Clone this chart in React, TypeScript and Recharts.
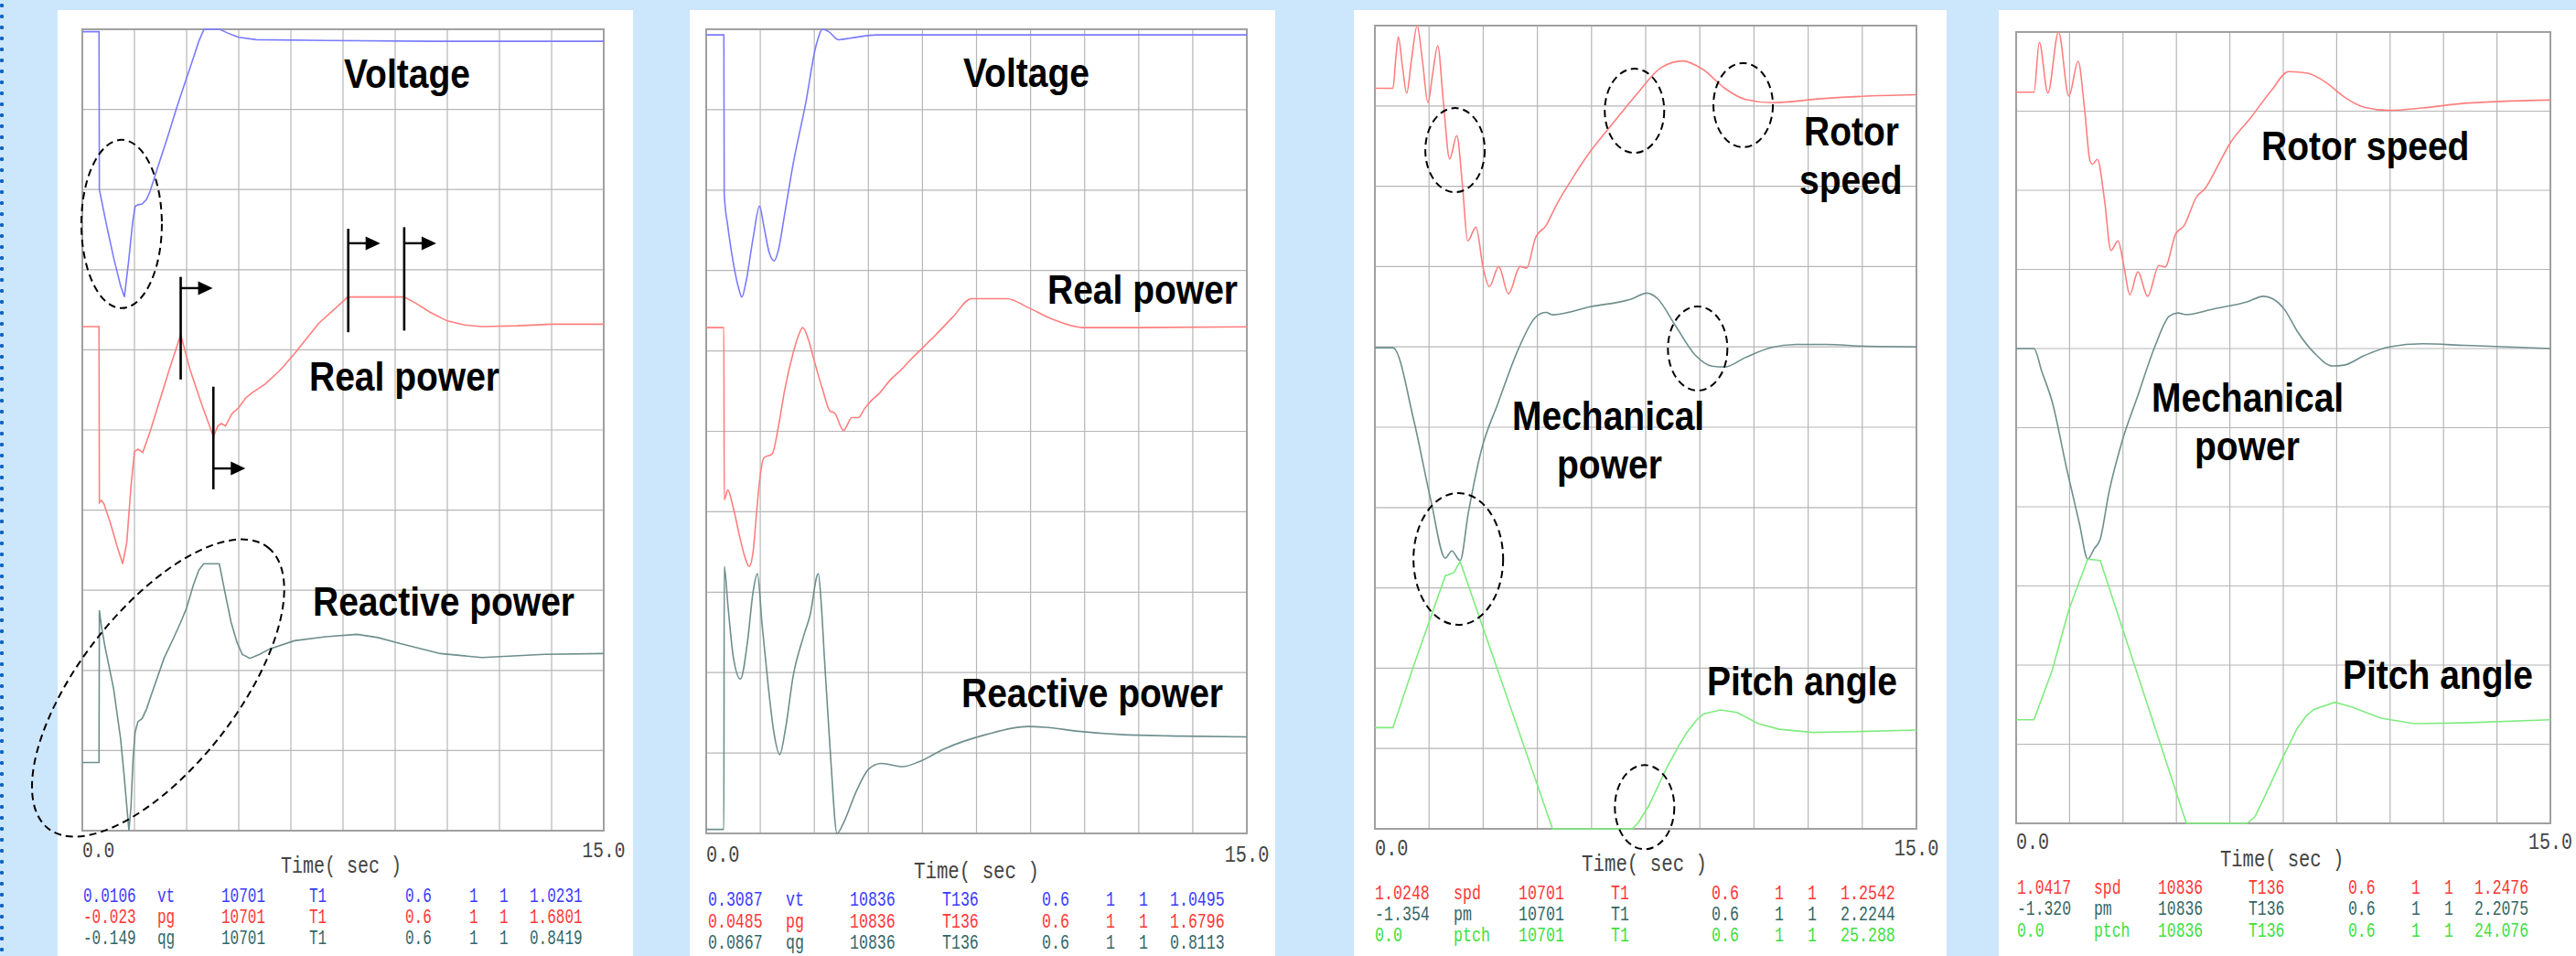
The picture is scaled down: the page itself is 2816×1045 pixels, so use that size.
import React from 'react'
import { LineChart, Line, XAxis, YAxis, CartesianGrid, ReferenceLine, ReferenceDot, ReferenceArea } from 'recharts'

type Pt = [number, number]

// Each series: [time in s, value in plot divisions] (0 = bottom of frame, 10 = top).
// The plotter draws every channel on its own scale, so divisions are what can be read.

const p1Voltage: Pt[] = [
  [0, 9.97], [0.48, 9.97], [0.49, 8.0], [0.7, 7.55], [0.9, 7.15], [1.1, 6.8], [1.21, 6.66], [1.33, 7.1],
  [1.45, 7.6], [1.52, 7.79], [1.6, 7.81], [1.72, 7.82], [1.85, 7.88], [1.95, 7.98], [2.2, 8.32], [2.45, 8.65],
  [2.7, 9.0], [2.95, 9.33], [3.2, 9.65], [3.35, 9.85], [3.5, 10.0], [3.95, 10.0], [4.2, 9.95], [4.5, 9.9],
  [5.0, 9.87], [7.0, 9.86], [10.0, 9.85], [15.0, 9.85],
]
const p1Real: Pt[] = [
  [0, 6.29], [0.48, 6.29], [0.49, 4.09], [0.55, 4.12], [0.62, 4.08], [0.8, 3.85], [1.0, 3.55], [1.16, 3.33],
  [1.28, 3.6], [1.4, 4.3], [1.5, 4.73], [1.6, 4.76], [1.74, 4.72], [1.95, 4.98], [2.2, 5.33], [2.5, 5.75],
  [2.83, 6.19], [3.1, 5.75], [3.45, 5.3], [3.77, 4.92], [3.9, 5.05], [4.0, 5.08], [4.12, 5.05], [4.3, 5.2],
  [4.5, 5.28], [4.7, 5.4], [4.9, 5.47], [5.25, 5.57], [5.7, 5.75], [6.1, 5.95], [6.8, 6.33], [7.64, 6.66],
  [9.26, 6.66], [9.6, 6.58], [10.0, 6.47], [10.5, 6.36], [11.0, 6.31], [11.5, 6.29], [12.5, 6.3], [13.5, 6.32],
  [15, 6.32],
]
const p1Reactive: Pt[] = [
  [0, 0.85], [0.48, 0.85], [0.49, 2.75], [0.55, 2.55], [0.65, 2.3], [0.9, 1.77], [1.1, 1.15], [1.2, 0.7],
  [1.28, 0.3], [1.34, 0.0], [1.4, 0.3], [1.46, 0.9], [1.52, 1.23], [1.6, 1.36], [1.72, 1.4], [1.85, 1.52],
  [1.98, 1.69], [2.35, 2.15], [2.6, 2.38], [2.83, 2.6], [3.0, 2.78], [3.19, 3.06], [3.35, 3.25], [3.49, 3.33],
  [3.94, 3.33], [4.1, 2.98], [4.28, 2.6], [4.45, 2.35], [4.6, 2.2], [4.82, 2.15], [5.1, 2.2], [5.4, 2.27],
  [6.1, 2.37], [7.0, 2.42], [7.9, 2.45], [8.5, 2.41], [9.1, 2.34], [10.3, 2.21], [11.5, 2.16], [13.3, 2.2],
  [15, 2.21],
]

const p2Voltage: Pt[] = [
  [0, 9.93], [0.49, 9.93], [0.5, 7.95], [0.6, 7.55], [0.75, 7.1], [0.9, 6.78], [0.99, 6.67], [1.1, 6.85],
  [1.3, 7.4], [1.48, 7.8], [1.6, 7.55], [1.75, 7.22], [1.89, 7.12], [2.0, 7.25], [2.18, 7.71], [2.41, 8.32],
  [2.76, 9.08], [3.05, 9.8], [3.23, 10.0], [3.4, 9.97], [3.67, 9.87], [4.0, 9.89], [4.74, 9.93], [15, 9.93],
]
const p2Real: Pt[] = [
  [0, 6.29], [0.49, 6.29], [0.5, 4.15], [0.6, 4.27], [0.75, 4.05], [0.95, 3.65], [1.1, 3.4], [1.19, 3.32],
  [1.3, 3.5], [1.4, 4.0], [1.48, 4.38], [1.6, 4.67], [1.83, 4.72], [2.0, 5.05], [2.18, 5.52], [2.41, 5.97],
  [2.55, 6.18], [2.68, 6.29], [2.85, 6.12], [2.99, 5.89], [3.23, 5.52], [3.44, 5.25], [3.56, 5.23], [3.81, 5.01],
  [4.04, 5.17], [4.22, 5.17], [4.39, 5.28], [4.62, 5.4], [4.8, 5.47], [5.09, 5.63], [5.44, 5.78], [5.67, 5.89],
  [6.37, 6.2], [6.84, 6.42], [7.36, 6.65], [8.35, 6.65], [8.93, 6.54], [9.63, 6.39], [10.45, 6.29], [11.5, 6.29],
  [15, 6.3],
]
const p2Reactive: Pt[] = [
  [0, 0.05], [0.49, 0.05], [0.5, 3.32], [0.6, 2.85], [0.75, 2.2], [0.95, 1.92], [1.15, 2.4], [1.3, 3.0],
  [1.42, 3.23], [1.55, 2.6], [1.71, 1.88], [1.88, 1.25], [2.04, 0.98], [2.2, 1.3], [2.41, 1.95], [2.7, 2.45],
  [2.88, 2.71], [3.11, 3.23], [3.2, 2.8], [3.28, 2.18], [3.46, 0.89], [3.63, 0.0], [3.8, 0.12], [4.16, 0.52],
  [4.51, 0.8], [4.86, 0.87], [5.44, 0.83], [5.9, 0.89], [6.6, 1.05], [7.77, 1.23], [8.93, 1.33], [9.4, 1.32],
  [10.33, 1.27], [11.49, 1.23], [13.2, 1.21], [15, 1.2],
]

const p3Speed: Pt[] = [
  [0, 9.22], [0.5, 9.22], [0.58, 9.6], [0.65, 9.86], [0.76, 9.5], [0.88, 9.16], [1.02, 9.6], [1.17, 10.0],
  [1.32, 9.55], [1.47, 9.04], [1.6, 9.4], [1.74, 9.75], [1.9, 9.03], [2.07, 8.34], [2.27, 8.63], [2.42, 8.04],
  [2.57, 7.32], [2.8, 7.49], [3.0, 6.98], [3.17, 6.75], [3.43, 7.0], [3.7, 6.66], [4.02, 7.0], [4.2, 6.98],
  [4.45, 7.36], [4.74, 7.51], [5.03, 7.77], [5.5, 8.12], [5.85, 8.36], [6.55, 8.76], [7.24, 9.14], [7.94, 9.48],
  [8.52, 9.56], [9.1, 9.45], [9.69, 9.22], [10.27, 9.08], [11.02, 9.04], [12.36, 9.09], [13.5, 9.12], [15, 9.14],
]
const p3Mech: Pt[] = [
  [0, 5.99], [0.5, 5.99], [1.08, 5.08], [1.55, 4.09], [1.95, 3.37], [2.13, 3.46], [2.36, 3.34], [2.59, 3.94],
  [2.94, 4.7], [3.41, 5.3], [3.99, 5.99], [4.45, 6.37], [4.74, 6.43], [4.92, 6.4], [5.97, 6.5], [7.13, 6.6],
  [7.53, 6.67], [7.83, 6.6], [8.29, 6.29], [8.87, 5.9], [9.34, 5.76], [9.69, 5.75], [10.27, 5.87], [10.97, 5.99],
  [11.66, 6.03], [12.5, 6.03], [13.5, 6.01], [15, 6.0],
]
const p3Pitch: Pt[] = [
  [0, 1.26], [0.5, 1.26], [1.08, 2.04], [1.55, 2.64], [1.95, 3.15], [2.19, 3.19], [2.36, 3.33], [4.92, 0],
  [7.13, 0], [7.3, 0.08], [7.59, 0.29], [8.06, 0.74], [8.4, 1.02], [8.64, 1.2], [8.9, 1.35], [9.1, 1.43],
  [9.57, 1.48], [10.03, 1.45], [10.62, 1.31], [11.2, 1.24], [12.13, 1.2], [13.3, 1.21], [15, 1.23],
]

const p4Speed: Pt[] = [
  [0, 9.24], [0.5, 9.24], [0.65, 9.87], [0.89, 9.23], [1.19, 10.0], [1.48, 9.19], [1.74, 9.63], [1.92, 9.03],
  [2.07, 8.38], [2.14, 8.33], [2.28, 8.39], [2.48, 7.88], [2.66, 7.24], [2.86, 7.36], [3.03, 7.03], [3.19, 6.68],
  [3.42, 6.97], [3.69, 6.66], [4.01, 7.05], [4.18, 7.03], [4.48, 7.45], [4.71, 7.55], [5.07, 7.92], [5.3, 8.02],
  [5.65, 8.3], [6.0, 8.59], [6.59, 8.92], [7.18, 9.27], [7.65, 9.5], [8.18, 9.48], [8.71, 9.36], [9.18, 9.19],
  [9.77, 9.05], [10.47, 9.01], [11.41, 9.04], [12.59, 9.1], [15, 9.14],
]
const p4Mech: Pt[] = [
  [0, 6.0], [0.5, 6.0], [0.72, 5.71], [1.01, 5.33], [1.42, 4.48], [1.78, 3.78], [2.01, 3.34], [2.19, 3.47],
  [2.36, 3.59], [2.6, 4.17], [2.95, 4.79], [3.42, 5.41], [3.89, 6.02], [4.3, 6.41], [4.54, 6.45], [4.77, 6.43],
  [5.54, 6.5], [6.48, 6.59], [6.95, 6.66], [7.2, 6.63], [7.54, 6.49], [7.89, 6.22], [8.36, 5.95], [8.89, 5.78],
  [9.2, 5.79], [9.77, 5.91], [10.47, 6.02], [11.41, 6.06], [12.6, 6.04], [15, 6.0],
]
const p4Pitch: Pt[] = [
  [0, 1.31], [0.5, 1.31], [1.01, 1.93], [1.48, 2.7], [2.01, 3.34], [2.36, 3.32], [4.78, 0], [6.48, 0],
  [6.7, 0.08], [6.95, 0.31], [7.42, 0.77], [7.89, 1.2], [8.15, 1.36], [8.36, 1.44], [8.95, 1.53], [9.42, 1.47],
  [10.24, 1.33], [11.18, 1.26], [12.6, 1.27], [15, 1.31],
]

const X_TICKS = [0, 1.5, 3, 4.5, 6, 7.5, 9, 10.5, 12, 13.5, 15]
const Y_TICKS = [0, 1, 2, 3, 4, 5, 6, 7, 8, 9, 10]

const legend1 = [
  ['0.0106', 'vt', '10701', 'T1', '0.6', '1', '1', '1.0231'],
  ['-0.023', 'pg', '10701', 'T1', '0.6', '1', '1', '1.6801'],
  ['-0.149', 'qg', '10701', 'T1', '0.6', '1', '1', '0.8419'],
]
const legend2 = [
  ['0.3087', 'vt', '10836', 'T136', '0.6', '1', '1', '1.0495'],
  ['0.0485', 'pg', '10836', 'T136', '0.6', '1', '1', '1.6796'],
  ['0.0867', 'qg', '10836', 'T136', '0.6', '1', '1', '0.8113'],
]
const legend3 = [
  ['1.0248', 'spd', '10701', 'T1', '0.6', '1', '1', '1.2542'],
  ['-1.354', 'pm', '10701', 'T1', '0.6', '1', '1', '2.2244'],
  ['0.0', 'ptch', '10701', 'T1', '0.6', '1', '1', '25.288'],
]
const legend4 = [
  ['1.0417', 'spd', '10836', 'T136', '0.6', '1', '1', '1.2476'],
  ['-1.320', 'pm', '10836', 'T136', '0.6', '1', '1', '2.2075'],
  ['0.0', 'ptch', '10836', 'T136', '0.6', '1', '1', '24.076'],
]

const BLUE = { line: '#7b7bff', text: '#3a3aff' }
const RED = { line: '#ff7f7f', text: '#ff3636' }
const TEAL = { line: '#6e8e8e', text: '#336666' }
const GREEN = { line: '#7fec7f', text: '#3ee03e' }

interface SeriesDef { pts: Pt[]; c: { line: string; text: string }; curve: 'linear' | 'monotone' }
interface Oval { t: number; v: number; rx: number; ry: number; rot?: number }
interface Flag { t: number; v1: number; v2: number; va: number }
interface Lbl { text: string; x: number; y: number }
interface PanelDef {
  whiteL: number; whiteR: number
  left: number; right: number; top: number; bottom: number
  series: SeriesDef[]
  ovals: Oval[]
  flags: Flag[]
  labels: Lbl[]
  legend: string[][]
  cols: number[]
  tickY: number; timeX: number; timeY: number; legY: number[]
}

const panels: PanelDef[] = [
  {
    whiteL: 63, whiteR: 692, left: 90, right: 660, top: 32, bottom: 908,
    series: [
      { pts: p1Voltage, c: BLUE, curve: 'linear' },
      { pts: p1Real, c: RED, curve: 'linear' },
      { pts: p1Reactive, c: TEAL, curve: 'linear' },
    ],
    ovals: [
      { t: 1.13, v: 7.57, rx: 44, ry: 92 },
      { t: 2.18, v: 1.78, rx: 195, ry: 86, rot: -52 },
    ],
    flags: [
      { t: 2.83, v1: 6.91, v2: 5.63, va: 6.77 },
      { t: 3.77, v1: 5.54, v2: 4.26, va: 4.52 },
      { t: 7.65, v1: 7.51, v2: 6.22, va: 7.33 },
      { t: 9.26, v1: 7.53, v2: 6.24, va: 7.33 },
    ],
    labels: [
      { text: 'Voltage', x: 376, y: 96 },
      { text: 'Real power', x: 338, y: 427 },
      { text: 'Reactive power', x: 342, y: 673 },
    ],
    legend: legend1,
    cols: [91, 172, 242, 338, 443, 513, 546, 579],
    tickY: 937, timeX: 307, timeY: 954, legY: [986, 1009, 1032],
  },
  {
    whiteL: 754, whiteR: 1394, left: 772, right: 1363, top: 32, bottom: 911,
    series: [
      { pts: p2Voltage, c: BLUE, curve: 'monotone' },
      { pts: p2Real, c: RED, curve: 'monotone' },
      { pts: p2Reactive, c: TEAL, curve: 'monotone' },
    ],
    ovals: [],
    flags: [],
    labels: [
      { text: 'Voltage', x: 1053, y: 95 },
      { text: 'Real power', x: 1145, y: 332 },
      { text: 'Reactive power', x: 1051, y: 773 },
    ],
    legend: legend2,
    cols: [774, 859, 929, 1030, 1139, 1209, 1245, 1279],
    tickY: 942, timeX: 999, timeY: 960, legY: [990, 1014, 1037],
  },
  {
    whiteL: 1480, whiteR: 2128, left: 1503, right: 2095, top: 28, bottom: 906,
    series: [
      { pts: p3Speed, c: RED, curve: 'monotone' },
      { pts: p3Mech, c: TEAL, curve: 'monotone' },
      { pts: p3Pitch, c: GREEN, curve: 'linear' },
    ],
    ovals: [
      { t: 2.22, v: 8.45, rx: 32.5, ry: 46 },
      { t: 7.19, v: 8.94, rx: 32.5, ry: 46 },
      { t: 10.2, v: 9.01, rx: 32.5, ry: 46 },
      { t: 8.94, v: 5.98, rx: 32.5, ry: 46 },
      { t: 2.31, v: 3.36, rx: 49, ry: 72 },
      { t: 7.47, v: 0.27, rx: 32.5, ry: 46 },
    ],
    flags: [],
    labels: [
      { text: 'Rotor', x: 1972, y: 159 },
      { text: 'speed', x: 1967, y: 212 },
      { text: 'Mechanical', x: 1653, y: 470 },
      { text: 'power', x: 1702, y: 523 },
      { text: 'Pitch angle', x: 1866, y: 760 },
    ],
    legend: legend3,
    cols: [1503, 1589, 1660, 1761, 1871, 1940, 1976, 2012],
    tickY: 935, timeX: 1729, timeY: 952, legY: [983, 1006, 1029],
  },
  {
    whiteL: 2185, whiteR: 2816, left: 2204, right: 2788, top: 35, bottom: 900,
    series: [
      { pts: p4Speed, c: RED, curve: 'monotone' },
      { pts: p4Mech, c: TEAL, curve: 'monotone' },
      { pts: p4Pitch, c: GREEN, curve: 'linear' },
    ],
    ovals: [],
    flags: [],
    labels: [
      { text: 'Rotor speed', x: 2472, y: 175 },
      { text: 'Mechanical', x: 2352, y: 450 },
      { text: 'power', x: 2399, y: 503 },
      { text: 'Pitch angle', x: 2561, y: 753 },
    ],
    legend: legend4,
    cols: [2205, 2289, 2359, 2458, 2567, 2636, 2672, 2705],
    tickY: 928, timeX: 2427, timeY: 947, legY: [977, 1000, 1024],
  },
]

const WHITE_TOP = 11
const PAGE_W = 2816
const PAGE_H = 1045
const PAD = 40 // room for annotations that spill past the white card
const MONO = '"Liberation Mono", "DejaVu Sans Mono", monospace'
const SANS = '"Liberation Sans", Arial, sans-serif'

const toRows = (pts: Pt[]) => pts.map(([t, v]) => ({ t, v }))

function PanelChart({ p }: { p: PanelDef }) {
  const w = p.whiteR - p.whiteL
  const h = PAGE_H - WHITE_TOP
  return (
    <div style={{ position: 'absolute', left: p.whiteL - PAD, top: WHITE_TOP, width: w + PAD, height: h }}>
      <LineChart
        width={w + PAD}
        height={h}
        margin={{ top: p.top - WHITE_TOP, right: p.whiteR - p.right, bottom: PAGE_H - p.bottom, left: p.left - p.whiteL + PAD }}
      >
        <CartesianGrid stroke="#b6b6b6" strokeWidth={1.2} horizontalValues={Y_TICKS} verticalValues={X_TICKS} />
        <XAxis dataKey="t" type="number" domain={[0, 15]} ticks={X_TICKS} hide />
        <YAxis type="number" domain={[0, 10]} ticks={Y_TICKS} hide />
        <ReferenceArea x1={0} x2={15} y1={0} y2={10} fill="none" stroke="#a0a0a0" strokeWidth={2} />
        {p.series.map((s, i) => (
          <Line
            key={i}
            data={toRows(s.pts)}
            dataKey="v"
            type={s.curve}
            stroke={s.c.line}
            strokeWidth={1.6}
            dot={false}
            activeDot={false}
            isAnimationActive={false}
          />
        ))}
        {p.flags.map((f, i) => (
          <ReferenceLine
            key={`fl${i}`}
            segment={[{ x: f.t, y: f.v1 }, { x: f.t, y: f.v2 }]}
            stroke="#000"
            strokeWidth={2.6}
            ifOverflow="visible"
          />
        ))}
        {p.flags.map((f, i) => (
          <ReferenceDot
            key={`fa${i}`}
            x={f.t}
            y={f.va}
            r={0}
            ifOverflow="visible"
            shape={(props: any) => (
              <g>
                <line x1={props.cx} y1={props.cy} x2={props.cx + 21} y2={props.cy} stroke="#000" strokeWidth={2.4} />
                <polygon
                  points={`${props.cx + 19},${props.cy - 7.5} ${props.cx + 35},${props.cy} ${props.cx + 19},${props.cy + 7.5}`}
                  fill="#000"
                />
              </g>
            )}
          />
        ))}
        {p.ovals.map((o, i) => (
          <ReferenceDot
            key={`ov${i}`}
            x={o.t}
            y={o.v}
            r={0}
            ifOverflow="visible"
            shape={(props: any) => (
              <ellipse
                cx={props.cx}
                cy={props.cy}
                rx={o.rx}
                ry={o.ry}
                transform={o.rot ? `rotate(${o.rot} ${props.cx} ${props.cy})` : undefined}
                fill="none"
                stroke="#000"
                strokeWidth={2}
                strokeDasharray="8 5"
              />
            )}
          />
        ))}
      </LineChart>
    </div>
  )
}

function StretchText({ x, y, size, sy, fill, family, weight, anchor, children }: any) {
  return (
    <text
      transform={`translate(${x} ${y}) scale(1 ${sy})`}
      fontSize={size}
      fill={fill}
      fontFamily={family}
      fontWeight={weight}
      textAnchor={anchor || 'start'}
    >
      {children}
    </text>
  )
}

function PanelText({ p }: { p: PanelDef }) {
  const k = (p.right - p.left) / 570
  return (
    <g>
      {p.labels.map((l, i) => (
        <StretchText key={i} x={l.x} y={l.y} size={39} sy={1.16} fill="#000" family={SANS} weight="bold">
          {l.text}
        </StretchText>
      ))}
      <StretchText x={p.left} y={p.tickY} size={19.5 * k} sy={1.25} fill="#444" family={MONO}>0.0</StretchText>
      <StretchText x={p.right} y={p.tickY} size={19.5 * k} sy={1.25} fill="#444" family={MONO} anchor="middle">15.0</StretchText>
      <StretchText x={p.timeX} y={p.timeY} size={20 * k} sy={1.25} fill="#444" family={MONO}>
        {'Time( sec )'}
      </StretchText>
      {p.legend.map((row, r) =>
        row.map((cell, c) => (
          <StretchText
            key={`${r}-${c}`}
            x={p.cols[c]}
            y={p.legY[r]}
            size={16 * k}
            sy={1.35}
            fill={p.series[r].c.text}
            family={MONO}
          >
            {cell}
          </StretchText>
        ))
      )}
    </g>
  )
}

export default function App() {
  return (
    <div
      style={{
        position: 'absolute',
        left: 0,
        top: 0,
        width: PAGE_W,
        height: PAGE_H,
        overflow: 'hidden',
        background: '#cce6fc',
      }}
    >
      <div
        style={{
          position: 'absolute',
          left: 0,
          top: 0,
          width: 6,
          height: PAGE_H,
          backgroundImage: 'radial-gradient(circle at 2px 6px, #0f62c4 1.9px, transparent 2.4px)',
          backgroundSize: '6px 12px',
          backgroundRepeat: 'repeat-y',
        }}
      />
      {panels.map((p, i) => (
        <div
          key={`w${i}`}
          style={{ position: 'absolute', left: p.whiteL, top: WHITE_TOP, width: p.whiteR - p.whiteL, height: PAGE_H - WHITE_TOP, background: '#fff' }}
        />
      ))}
      {panels.map((p, i) => (
        <PanelChart key={i} p={p} />
      ))}
      <svg width={PAGE_W} height={PAGE_H} style={{ position: 'absolute', left: 0, top: 0, pointerEvents: 'none' }}>
        {panels.map((p, i) => (
          <PanelText key={i} p={p} />
        ))}
      </svg>
    </div>
  )
}
